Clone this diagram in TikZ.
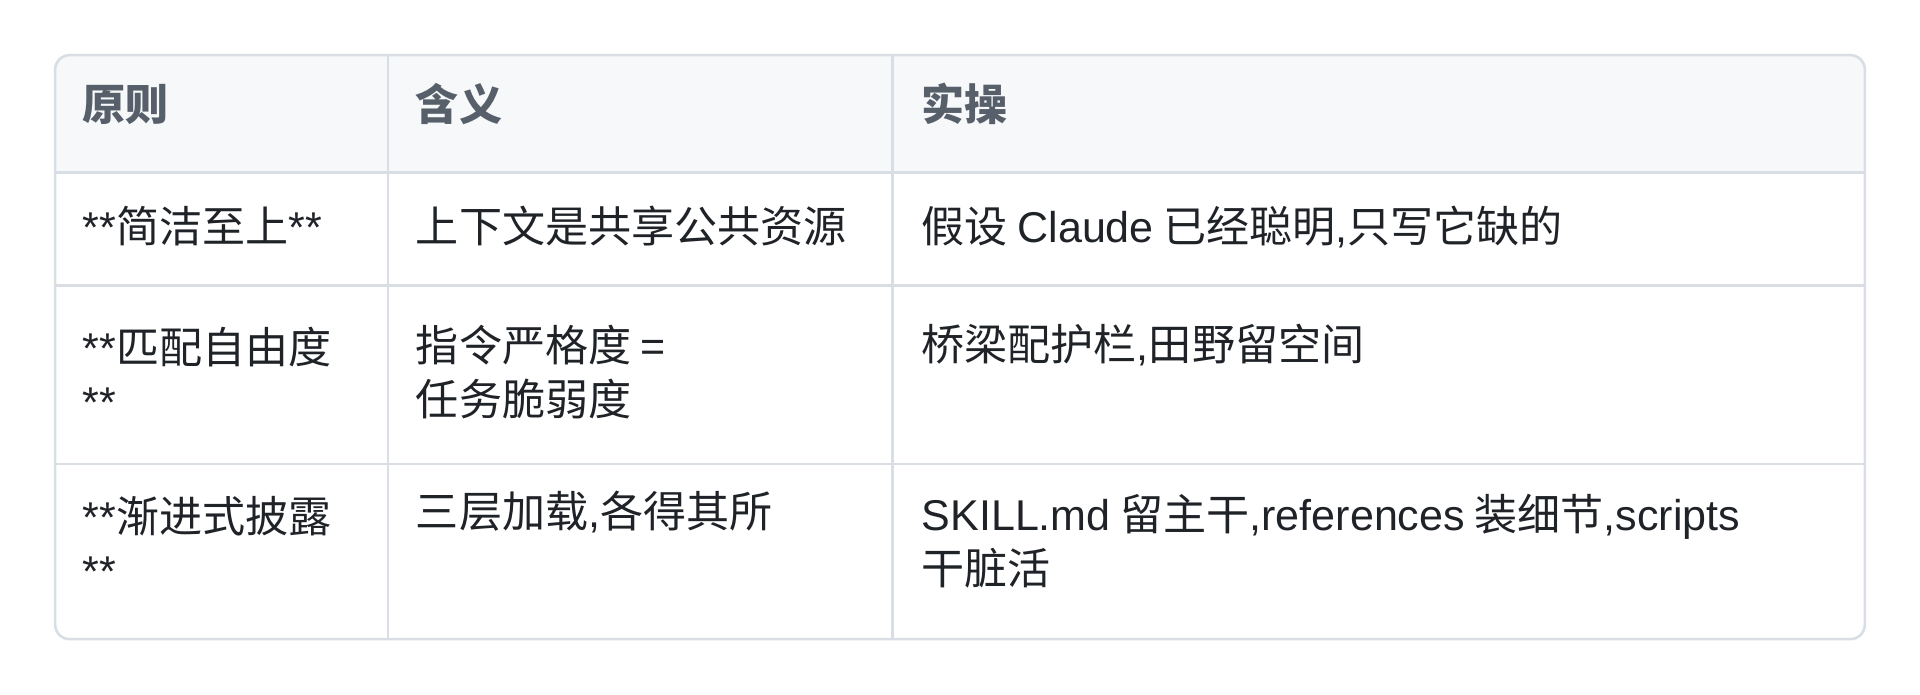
\documentclass[tikz,border=0pt]{standalone}
\usepackage{fontspec}
\setmainfont{Noto Sans CJK SC}
\newfontfamily\latfont{Liberation Sans}
\newcommand{\lat}[1]{{\latfont #1}}
\usetikzlibrary{positioning}
\definecolor{gridline}{HTML}{D8DEE4}
\definecolor{headfill}{HTML}{F6F8FA}
\definecolor{headtext}{HTML}{57606A}
\definecolor{bodytext}{HTML}{1F2328}

\begin{document}
\begin{tikzpicture}[
  x=0.01cm, y=-0.01cm,
  font=\fontsize{10pt}{12.5pt}\selectfont,
  head/.style={anchor=west, inner sep=0pt, text=headtext, font=\fontsize{10pt}{12.5pt}\selectfont\bfseries},
  cell/.style={anchor=west, inner sep=0pt, text=bodytext, align=left},
  rule/.style={draw=gridline, line width=0.6pt},
]
\useasboundingbox (0,0) rectangle (1568,567);

% header background and frame
\begin{scope}
  \clip[rounded corners=0.12cm] (45,45) rectangle (1523,522);
  \fill[headfill] (45,45) rectangle (1523,141);
\end{scope}
\draw[rule, rounded corners=0.12cm] (45,45) rectangle (1523,522);

% row and column rules
\foreach \y in {141,233,379}
  \draw[rule] (45,\y) -- (1523,\y);
\foreach \x in {317,729}
  \draw[rule] (\x,45) -- (\x,522);

% header
\node[head] (h1) at (67,85) {原则};
\node[head] (h2) at (339,85) {含义};
\node[head] (h3) at (752,85) {实操};

% rows
\node[cell] (a1) at (67,185) {\lat{**}简洁至上\lat{**}};
\node[cell] (b1) at (339,185) {上下文是共享公共资源};
\node[cell] (c1) at (752,185) {假设 \lat{Claude} 已经聪明\lat{,}只写它缺的};

\node[cell] (a2) at (67,304) {\lat{**}匹配自由度\\\lat{**}};
\node[cell] (b2) at (339,304) {指令严格度 \lat{=}\\任务脆弱度};
\node[cell] (c2) at (752,282) {桥梁配护栏\lat{,}田野留空间};

\node[cell] (a3) at (67,442) {\lat{**}渐进式披露\\\lat{**}};
\node[cell] (b3) at (339,418) {三层加载\lat{,}各得其所};
\node[cell] (c3) at (752,442) {\lat{SKILL.md} 留主干\lat{,references} 装细节\lat{,scripts}\\干脏活};
\end{tikzpicture}
\end{document}
